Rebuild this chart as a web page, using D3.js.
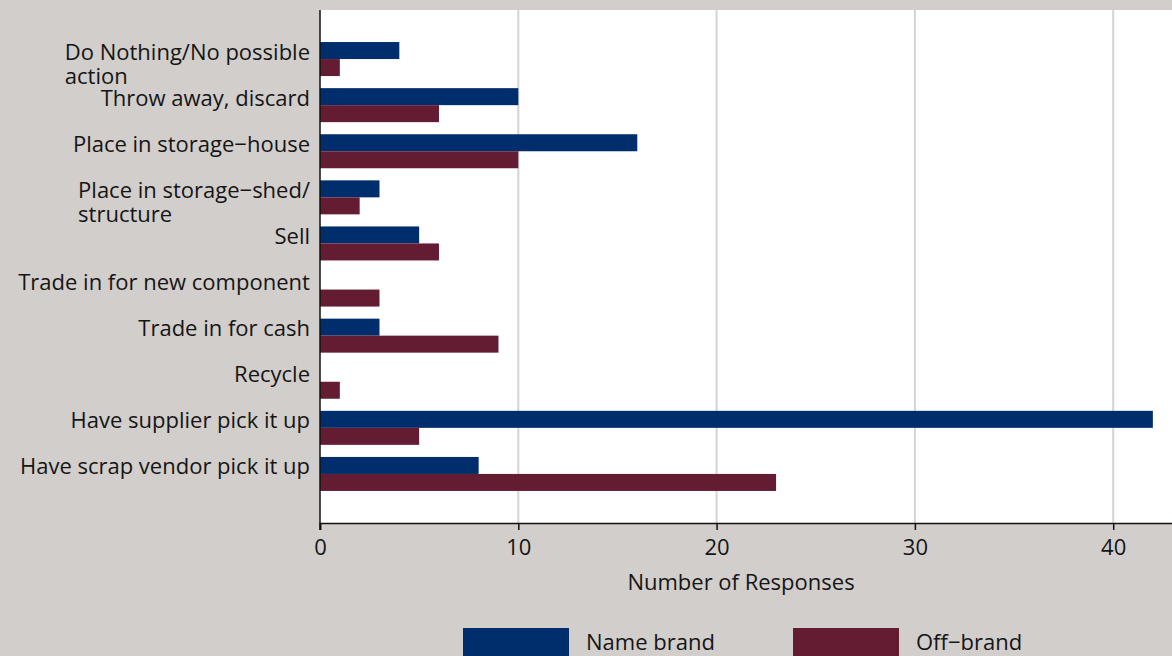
<!DOCTYPE html>
<html>
<head>
<meta charset="utf-8">
<script src="https://cdn.jsdelivr.net/npm/d3@7"></script>
<style>
  html, body { margin: 0; padding: 0; background: #d1cecb; }
  svg { display: block; }
  text { font-family: "Open Sans", Lato, sans-serif; fill: #151515; }
</style>
</head>
<body>
<svg id="chart" width="1172" height="656"></svg>
<script>
// Disposal actions (top to bottom), each label split into its printed lines
const categories = [
  ["Do Nothing/No possible", "action"],
  ["Throw away, discard"],
  ["Place in storage\u2212house"],
  ["Place in storage\u2212shed/", "structure"],
  ["Sell"],
  ["Trade in for new component"],
  ["Trade in for cash"],
  ["Recycle"],
  ["Have supplier pick it up"],
  ["Have scrap vendor pick it up"]
];
const nameBrand = [4, 10, 16, 3, 5, 0, 3, 0, 42, 8];
const offBrand  = [1, 6, 10, 2, 6, 3, 9, 1, 5, 23];
const seriesNames = ["Name brand", "Off\u2212brand"];
const seriesColors = ["#002d6b", "#641c33"];
const xTicks = [0, 10, 20, 30, 40];
const xTitle = "Number of Responses";

const W = 1172, H = 656;
const plot = { left: 320, top: 10, bottom: 523, right: W };
const FONT = "'Open Sans', Lato, sans-serif";

const svg = d3.select("#chart");

const x = d3.scaleLinear().domain([0, 45]).range([plot.left, plot.left + 45 * 19.83]);
const y = d3.scaleBand()
  .domain(d3.range(categories.length))
  .range([plot.top + 26, plot.bottom - 26])
  .padding(0);
const barH = 17;

// white plotting panel
svg.append("rect")
  .attr("x", plot.left).attr("y", plot.top)
  .attr("width", plot.right - plot.left).attr("height", plot.bottom - plot.top)
  .attr("fill", "#ffffff");

// vertical grid lines
svg.append("g")
  .selectAll("line")
  .data(xTicks.filter(d => d > 0))
  .join("line")
  .attr("x1", d => x(d)).attr("x2", d => x(d))
  .attr("y1", plot.top).attr("y2", plot.bottom)
  .attr("stroke", "#d4d4d4").attr("stroke-width", 2);

// bars
const series = [nameBrand, offBrand];
series.forEach((vals, si) => {
  svg.append("g")
    .selectAll("rect")
    .data(vals)
    .join("rect")
    .attr("x", x(0))
    .attr("y", (d, i) => y(i) + y.bandwidth() / 2 - barH + si * barH)
    .attr("width", d => x(d) - x(0))
    .attr("height", barH)
    .attr("fill", seriesColors[si]);
});

// x axis
const xAxis = svg.append("g")
  .attr("transform", `translate(0,${plot.bottom})`)
  .call(d3.axisBottom(x).tickValues(xTicks).tickSize(7).tickPadding(9));
xAxis.select(".domain").attr("stroke", "#111").attr("stroke-width", 1.5);
xAxis.selectAll(".tick line").attr("stroke", "#111").attr("stroke-width", 1.5);
xAxis.selectAll(".tick text")
  .attr("font-size", 22)
  .style("font-family", FONT)
  .attr("fill", "#151515");

// left axis line
svg.append("line")
  .attr("x1", plot.left).attr("x2", plot.left)
  .attr("y1", plot.top).attr("y2", plot.bottom + 7)
  .attr("stroke", "#111").attr("stroke-width", 1.5);

// category labels: block right-aligned to the axis, lines left-aligned within it
const labelRight = plot.left - 10;
const labelG = svg.append("g").attr("font-size", 22);
categories.forEach((lines, i) => {
  const cy = y(i) + y.bandwidth() / 2 - barH / 2;
  const t = labelG.append("text").attr("dominant-baseline", "central");
  lines.forEach((ln, k) => {
    t.append("tspan").attr("x", 0).attr("y", cy + k * 24).text(ln);
  });
  const w = t.node().getBBox().width;
  t.selectAll("tspan").attr("x", labelRight - w);
});

// x axis title
svg.append("text")
  .attr("x", (plot.left + plot.right) / 2 - 5)
  .attr("y", 590)
  .attr("text-anchor", "middle")
  .attr("font-size", 22)
  .text(xTitle);

// legend
const legend = svg.append("g");
const legX = [463, 793];
seriesNames.forEach((name, i) => {
  legend.append("rect")
    .attr("x", legX[i]).attr("y", 628)
    .attr("width", 106).attr("height", 40)
    .attr("fill", seriesColors[i]);
  legend.append("text")
    .attr("x", legX[i] + 123).attr("y", 650)
    .attr("font-size", 22)
    .text(name);
});
</script>
</body>
</html>
